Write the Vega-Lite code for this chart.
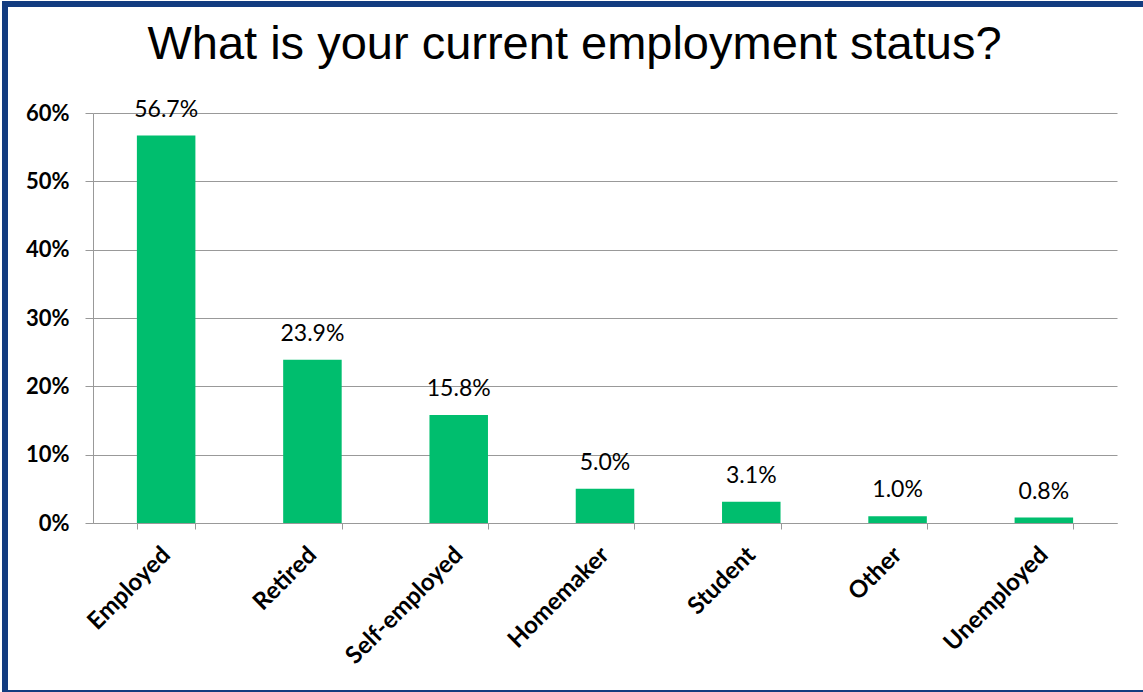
{
  "$schema": "https://vega.github.io/schema/vega-lite/v6.json",
  "width": 1143,
  "height": 689,
  "padding": {"left": 5, "top": 4, "right": 0, "bottom": 0},
  "autosize": {"type": "none"},
  "background": "white",
  "title": {
    "text": "What is your current employment status?",
    "font": "Liberation Sans",
    "fontSize": 47,
    "fontWeight": "normal",
    "color": "black",
    "anchor": "middle",
    "frame": "group",
    "baseline": "alphabetic",
    "offset": -102,
    "dx": -2
  },
  "config": {"view": {"stroke": "#133C80", "strokeWidth": 6}},
  "data": {
    "values": [
      {"status": "Employed", "pct": 0.567},
      {"status": "Retired", "pct": 0.239},
      {"status": "Self-employed", "pct": 0.158},
      {"status": "Homemaker", "pct": 0.05},
      {"status": "Student", "pct": 0.031},
      {"status": "Other", "pct": 0.01},
      {"status": "Unemployed", "pct": 0.008}
    ]
  },
  "encoding": {
    "x": {
      "field": "status",
      "type": "nominal",
      "sort": null,
      "scale": {"range": [88, 1112], "paddingInner": 0.6, "paddingOuter": 0.3},
      "axis": {
        "title": null,
        "offset": -170,
        "tickBand": "extent",
        "labelAngle": -45,
        "labelAlign": "right",
        "labelBaseline": "middle",
        "labelFont": "Lato",
        "labelFontSize": 24,
        "labelFontWeight": "bold",
        "labelColor": "black",
        "labelPadding": 22,
        "tickSize": 6,
        "domainColor": "#999999",
        "tickColor": "#999999",
        "grid": false
      }
    },
    "y": {
      "field": "pct",
      "type": "quantitative",
      "scale": {"domain": [0, 0.6], "range": [519, 109], "nice": false},
      "axis": {
        "title": null,
        "offset": -88,
        "format": ".0%",
        "values": [0, 0.1, 0.2, 0.3, 0.4, 0.5, 0.6],
        "labelFont": "Lato",
        "labelFontSize": 22,
        "labelFontWeight": "bold",
        "labelColor": "black",
        "labelPadding": 16,
        "tickSize": 8,
        "domainColor": "#999999",
        "tickColor": "#999999",
        "grid": true,
        "gridColor": "#999999"
      }
    }
  },
  "layer": [
    {"mark": {"type": "bar", "color": "#00BE6E"}},
    {
      "mark": {"type": "text", "dy": -19, "baseline": "alphabetic", "font": "Lato", "fontSize": 23, "color": "black"},
      "encoding": {"text": {"field": "pct", "format": ".1%"}}
    }
  ]
}
